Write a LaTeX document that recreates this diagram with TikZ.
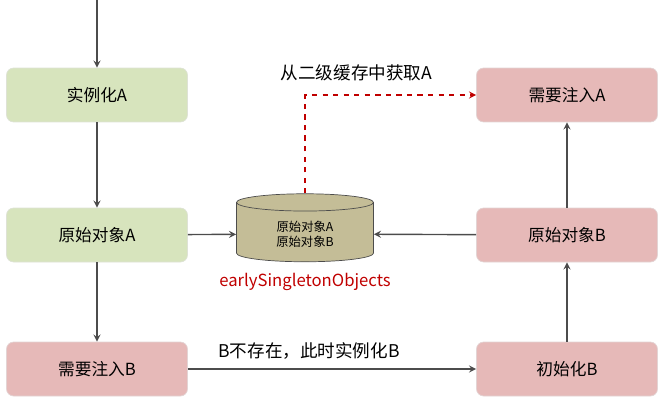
\documentclass[tikz,border=0pt]{standalone}
\usepackage{fontspec}
\setmainfont{Noto Sans CJK SC}
\usetikzlibrary{shapes.geometric}

\definecolor{greenbox}{HTML}{D7E4BD}
\definecolor{pinkbox}{HTML}{E6B9B8}
\definecolor{cylfill}{HTML}{C4BD97}
\definecolor{dashred}{HTML}{C00000}

\begin{document}
\begin{tikzpicture}[x=0.02cm,y=-0.02cm,
  every node/.style={font=\fontsize{9.5}{11}\selectfont},
  greenstep/.style={rounded corners=4pt,fill=greenbox,draw=greenbox!80!black!40,
    minimum width=3.62cm,minimum height=1.08cm},
  pinkstep/.style={rounded corners=4pt,fill=pinkbox,draw=pinkbox!80!black!40,
    minimum width=3.62cm,minimum height=1.08cm},
  cache/.style={cylinder,shape border rotate=90,aspect=0.25,draw=black!70,fill=cylfill,
    minimum width=2.74cm,minimum height=1.36cm,align=center,
    font=\fontsize{7}{8.5}\selectfont},
  flow/.style={->,>=stealth,draw=black!70,thick},
  fetch/.style={->,>=stealth,draw=dashred,thick,dashed}]

\useasboundingbox (0,0) rectangle (665,406);

% left column
\node[greenstep] (newA) at (97,95) {实例化A};
\node[greenstep] (rawA) at (97,235) {原始对象A};
\node[pinkstep] (injB) at (97,369) {需要注入B};

% right column
\node[pinkstep] (injA) at (567,95) {需要注入A};
\node[pinkstep] (rawB) at (567,235) {原始对象B};
\node[pinkstep] (initB) at (567,369) {初始化B};

% second level cache
\node[cache] (early) at (305,234) {原始对象A\\原始对象B};
\node[text=dashred] (earlyname) at (305,282) {earlySingletonObjects};
\coordinate (start) at (97,0);

\draw[flow] (start) -- (newA);
\draw[flow] (newA) -- (rawA);
\draw[flow] (rawA) -- (injB);
\draw[flow] (rawA) -- (early);
\draw[flow] (rawB) -- (early);
\draw[flow] (initB) -- (rawB);
\draw[flow] (rawB) -- (injA);
\draw[flow] (injB) -- node[pos=0.42,above=2pt,font=\fontsize{10}{11}\selectfont] {B不存在，此时实例化B} (initB);
\draw[fetch] (early.top) |- node[pos=0.65,above=4pt,text=black,font=\fontsize{10}{11}\selectfont] {从二级缓存中获取A} (injA.west);

\end{tikzpicture}
\end{document}
